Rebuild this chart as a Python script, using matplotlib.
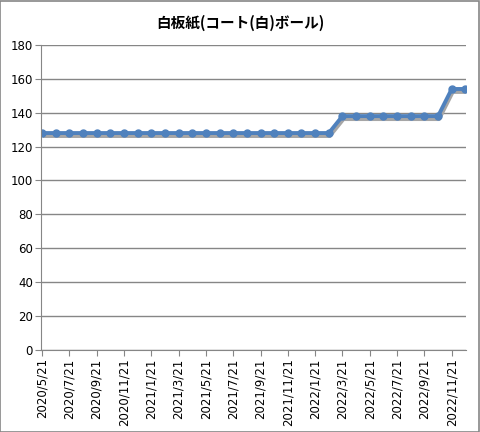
import matplotlib
matplotlib.use("Agg")
import matplotlib.pyplot as plt
import matplotlib.transforms as mtransforms

plt.rcParams['font.family'] = ['Noto Sans CJK JP', 'DejaVu Sans']

# monthly dates, 2020/5/21 .. 2022/12/21
dates = []
for y in range(2020, 2023):
    for m in range(1, 13):
        if (y == 2020 and m < 5):
            continue
        dates.append('%d/%d/21' % (y, m))

prices = [128] * 22 + [138] * 8 + [154] * 2
title = '白板紙(コート(白)ボール)'

fig = plt.figure(figsize=(4.8, 4.32), dpi=100)
ax = fig.add_axes([0.086, 0.19, 0.885, 0.706])

x = list(range(len(dates)))
# gray drop shadow under the line (like excel)
shift = mtransforms.ScaledTranslation(1 / 100, -3 / 100, fig.dpi_scale_trans)
ax.plot(x, prices, color='#A6A6A6', lw=2.8, transform=ax.transData + shift,
        solid_joinstyle='round', solid_capstyle='butt')
ax.plot(x, prices, color='#4F81BD', lw=2.8, marker='o', ms=5,
        solid_joinstyle='round', solid_capstyle='butt')

ax.set_xlim(-0.05, len(dates) - 0.95)
ax.set_ylim(0, 180)
ax.set_yticks(range(0, 181, 20))
ax.set_xticks(x[::2])
ax.set_xticklabels(dates[::2], rotation=90, fontsize=8.5, family='DejaVu Sans')
for lab in ax.get_yticklabels():
    lab.set_fontsize(8.5)
    lab.set_family('DejaVu Sans')

ax.grid(axis='y', color='#868686', lw=1)
ax.set_axisbelow(True)
for s in ['top', 'right']:
    ax.spines[s].set_visible(False)
ax.spines['left'].set_color('#868686')
ax.spines['bottom'].set_color('#868686')
ax.tick_params(axis='both', color='#868686', length=4, pad=2)

fig.text(0.5, 0.948, title, fontsize=10.5, fontweight='bold', ha='center', va='center')

fig.patches.append(plt.Rectangle((0.001, 0.001), 0.997, 0.997, transform=fig.transFigure,
                                 fill=False, edgecolor='#868686', lw=1.2))

fig.savefig('out.png', dpi=100)
